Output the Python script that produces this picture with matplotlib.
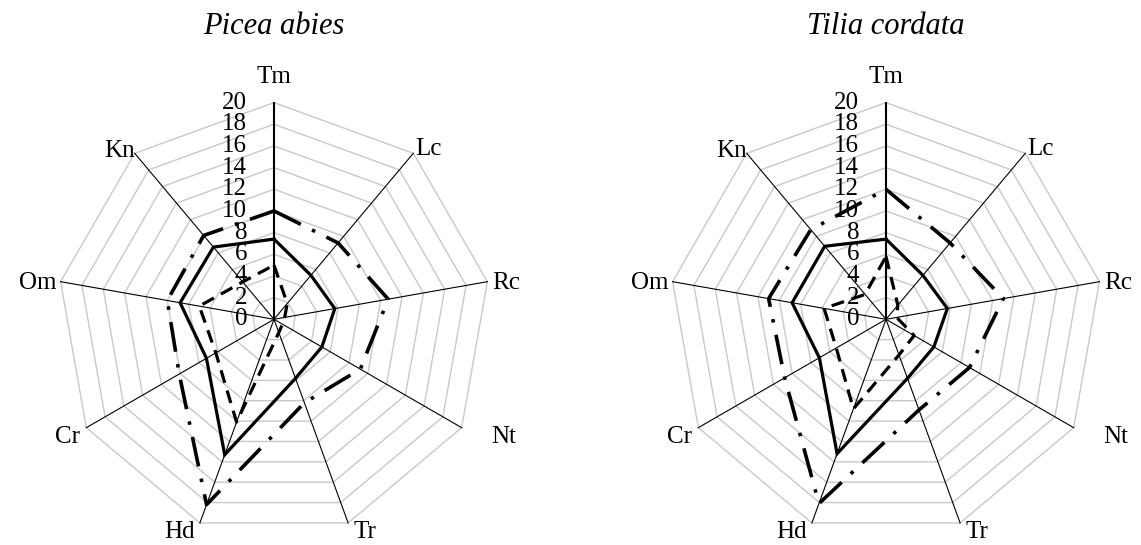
import numpy as np
import matplotlib
matplotlib.use('Agg')
import matplotlib.pyplot as plt

plt.rcParams['font.family'] = ['Liberation Serif', 'DejaVu Serif']
plt.rcParams['lines.scale_dashes'] = False

# spokes, clockwise from the top
spokes = ['Tm', 'Lc', 'Rc', 'Nt', 'Tr', 'Hd', 'Cr', 'Om', 'Kn']
ticks = list(range(0, 21, 2))
titles = ['Picea abies', 'Tilia cordata']

picea_solid = [7.4, 5.3, 5.7, 5.1, 5.8, 13.3, 7.2, 8.8, 8.7]
picea_dashdot = [10.0, 9.2, 10.7, 9.2, 8.2, 18.2, 10.1, 10.0, 10.1]
picea_dashed = [5.0, 1.9, 1.0, 0.9, 1.3, 10.1, 6.2, 7.0, 4.5]

tilia_solid = [7.4, 5.3, 5.75, 5.1, 5.8, 13.2, 7.1, 8.8, 8.8]
tilia_dashdot = [12.0, 9.2, 11.0, 8.9, 8.9, 18.1, 10.8, 11.0, 10.8]
tilia_dashed = [5.8, 1.7, 1.0, 3.0, 3.5, 8.8, 5.3, 5.8, 3.0]

W, H = 1141, 545
PX = 216.7 / 20.0          # pixels per unit of the radial scale
CY = 319.3                  # centre height from the top, px
centres = [274.0, 886.0]    # centre x of each chart, px

theta = np.pi / 2 - 2 * np.pi * np.arange(len(spokes)) / len(spokes)

# label alignment and offset (px, right / up) from the spoke end
label_fmt = {
    'Tm': ('center', 'center', 0, 26),
    'Lc': ('left', 'center', 2, 4),
    'Rc': ('left', 'center', 5, -1),
    'Nt': ('left', 'center', 30, -9),
    'Tr': ('left', 'center', 5, -9),
    'Hd': ('right', 'center', -5, -9),
    'Cr': ('right', 'center', -6, -9),
    'Om': ('right', 'center', -4, -1),
    'Kn': ('right', 'center', 0, 2),
}

line_styles = [
    dict(color='black', lw=2.3, ls='-', solid_joinstyle='miter'),
    dict(color='black', lw=2.6, ls=(0, (21.6, 9, 2.5, 9)), dash_capstyle='butt'),
    dict(color='black', lw=2.3, ls=(0, (9.4, 5.8)), dash_capstyle='butt'),
]


def polar_xy(vals):
    r = np.append(vals, vals[0])
    t = np.append(theta, theta[0])
    return r * np.cos(t), r * np.sin(t)


def radar(ax, title, series):
    ring = np.cos(theta), np.sin(theta)
    for v in ticks[1:]:
        x, y = polar_xy(np.full(len(spokes), v))
        ax.plot(x, y, color='#c8c8c8', lw=1.0, zorder=1)
    for i, name in enumerate(spokes):
        ex, ey = 20 * ring[0][i], 20 * ring[1][i]
        ax.plot([0, ex], [0, ey], color='black', lw=1.5 if i == 0 else 0.8, zorder=2)
        ha, va, dx, dy = label_fmt[name]
        ax.annotate(name, (ex, ey), xytext=(dx * 0.72, dy * 0.72),
                    textcoords='offset points', ha=ha, va=va, fontsize=18)
    for v in ticks:
        ax.text(-27 / PX, v, str(v), ha='right', va='center', fontsize=18,
                zorder=3)
    for vals, st in zip(series, line_styles):
        x, y = polar_xy(vals)
        ax.plot(x, y, zorder=4, **st)
    ax.text(0, (CY - 26) / PX, title, ha='center', va='center',
            fontsize=22, style='italic')


fig = plt.figure(figsize=(W / 100, H / 100), dpi=100)
data = [[picea_solid, picea_dashdot, picea_dashed],
        [tilia_solid, tilia_dashdot, tilia_dashed]]
for k, cx in enumerate(centres):
    x0 = 0 if k == 0 else W / 2
    ax = fig.add_axes([x0 / W, 0, 0.5, 1])
    ax.set_xlim((x0 - cx) / PX, (x0 + W / 2 - cx) / PX)
    ax.set_ylim(-(H - CY) / PX, CY / PX)
    ax.axis('off')
    radar(ax, titles[k], data[k])

fig.savefig('out.png', dpi=100)
